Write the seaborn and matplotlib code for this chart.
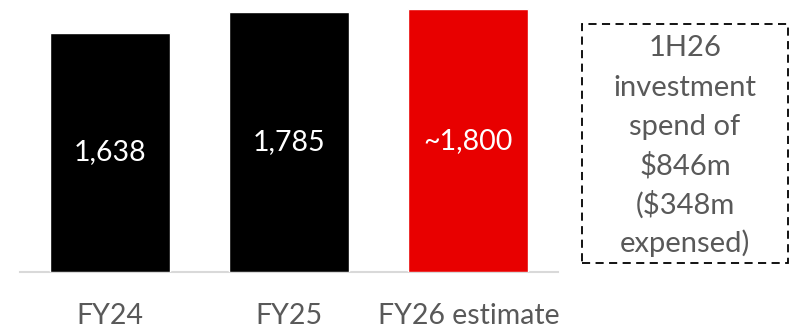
import matplotlib
matplotlib.use("Agg")
import matplotlib.pyplot as plt
from matplotlib.patches import Rectangle
import seaborn as sns
import pandas as pd

categories = ["FY24", "FY25", "FY26 estimate"]
values = [1638, 1785, 1800]
value_labels = ["1,638", "1,785", "~1,800"]
bar_colors = ["#000000", "#000000", "#E80000"]
note_lines = ["1H26", "investment", "spend of", "$846m", "($348m", "expensed)"]

sns.set_theme(style="white")
plt.rcParams["font.family"] = ["Lato", "DejaVu Sans"]

W, H = 791, 328
fig = plt.figure(figsize=(W / 100, H / 100), dpi=100)
ax = fig.add_axes([20 / W, (H - 272) / H, 538 / W, 272 / H])

df = pd.DataFrame({"cat": categories, "val": values})
sns.barplot(data=df, x="cat", y="val", hue="cat", palette=bar_colors,
            width=0.668, legend=False, ax=ax, saturation=1)

ax.set_xlim(-0.5, 2.5)
ax.set_ylim(0, 1864)
ax.set_xlabel("")
ax.set_ylabel("")
ax.set_yticks([])
for s in ["top", "right", "left"]:
    ax.spines[s].set_visible(False)
ax.spines["bottom"].set_color("#D9D9D9")
ax.spines["bottom"].set_linewidth(1.5)
ax.spines["bottom"].set_zorder(0)
ax.tick_params(axis="x", length=0, pad=22, labelsize=20.5, labelcolor="#595959")

for i, (v, lab) in enumerate(zip(values, value_labels)):
    ax.text(i, v / 2, lab, ha="center", va="center", color="white", fontsize=20.5)

# dashed note box
box = Rectangle((582 / W, (H - 263) / H), (788 - 582) / W, (263 - 24) / H,
                transform=fig.transFigure, fill=False, edgecolor="#000000",
                linewidth=1.3, linestyle=(0, (4.5, 3)))
fig.add_artist(box)
ys = [48, 88, 127, 166, 205, 243]
for y, line in zip(ys, note_lines):
    fig.text(685 / W, (H - y) / H, line, ha="center", va="center",
             color="#595959", fontsize=21)

fig.savefig("out.png", dpi=100)
